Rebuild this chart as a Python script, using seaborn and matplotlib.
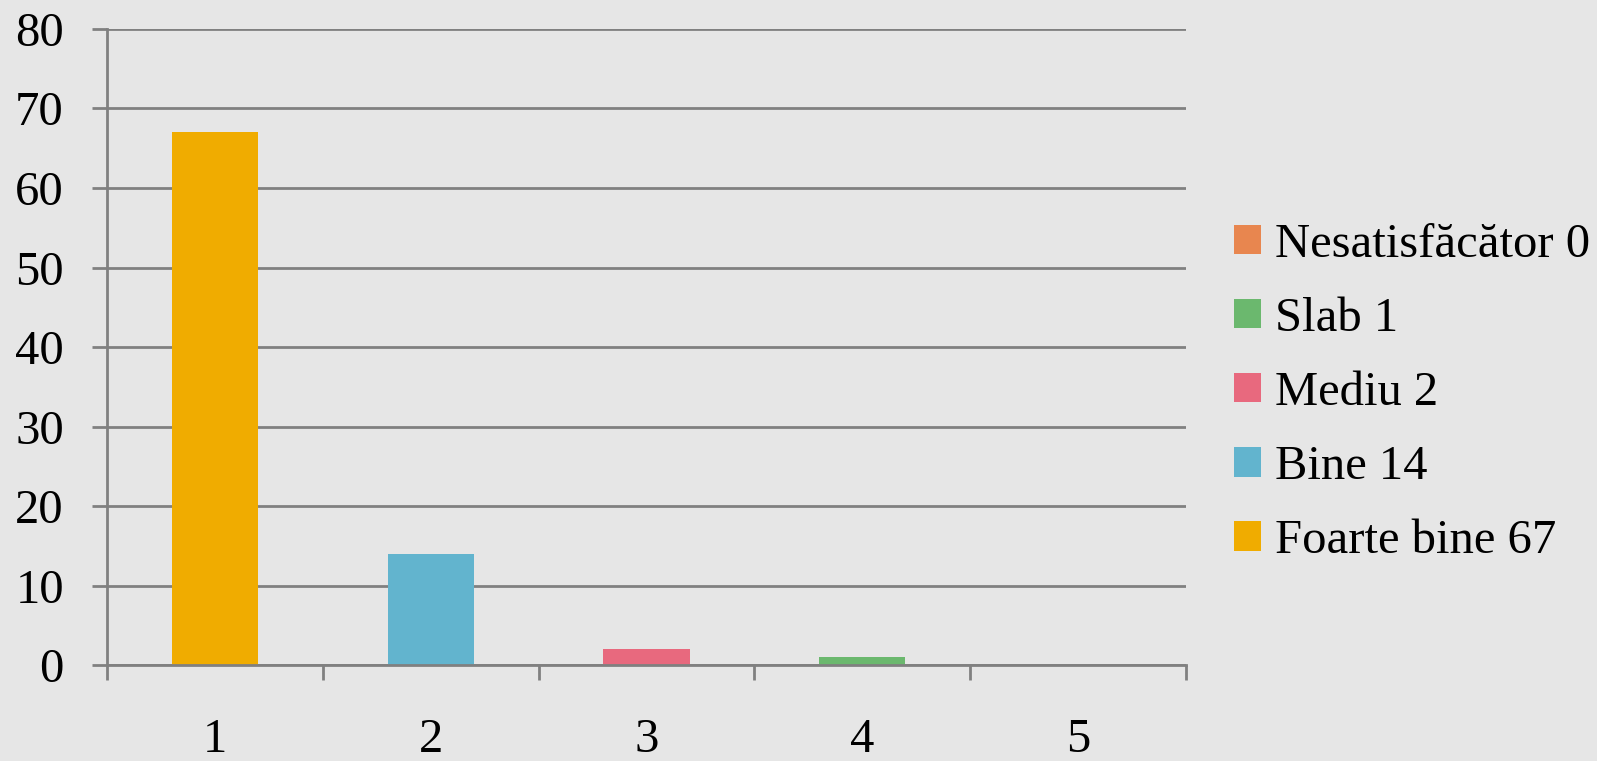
import matplotlib
matplotlib.use('Agg')
import matplotlib.pyplot as plt
import seaborn as sns
import pandas as pd
from matplotlib.patches import Patch
from matplotlib.ticker import FixedLocator

# ---- data ----
positions = ['1', '2', '3', '4', '5']
grades = ['Foarte bine', 'Bine', 'Mediu', 'Slab', 'Nesatisfăcător']
counts = [67, 14, 2, 1, 0]
colors = ['#F0AC00', '#62B4CE', '#E8697E', '#6BB86E', '#E8864F']
legend_order = ['Nesatisfăcător', 'Slab', 'Mediu', 'Bine', 'Foarte bine']

df = pd.DataFrame({'pos': positions, 'grade': grades, 'count': counts})
palette = dict(zip(grades, colors))

sns.set_theme(style='white')
plt.rcParams['font.family'] = ['Liberation Serif', 'DejaVu Serif']
plt.rcParams['text.color'] = 'black'
bg = '#E6E6E6'
grid_c = '#808080'

fig = plt.figure(figsize=(15.97, 7.61), dpi=100, facecolor=bg)
ax = fig.add_axes([0.067, 0.1261, 0.6756, 0.8358], facecolor=bg)

sns.barplot(data=df, x='pos', y='count', hue='grade', palette=palette,
            dodge=False, width=0.40, legend=False, ax=ax, saturation=1,
            linewidth=0, edgecolor='none')

ax.set_ylim(0, 80)
ax.set_xlim(-0.5, 4.5)
ax.set_yticks(range(0, 81, 10))
ax.yaxis.grid(True, color=grid_c, linewidth=2)
ax.set_axisbelow(True)
ax.set_xlabel('')
ax.set_ylabel('')

for s in ['top', 'right']:
    ax.spines[s].set_visible(False)
for s in ['left', 'bottom']:
    ax.spines[s].set_color(grid_c)
    ax.spines[s].set_linewidth(2)

# boundaries as major ticks, labels on minor ticks at the centres
ax.xaxis.set_major_locator(FixedLocator([i - 0.5 for i in range(6)]))
ax.xaxis.set_minor_locator(FixedLocator(list(range(5))))
ax.set_xticklabels([], minor=False)
ax.set_xticklabels(positions, minor=True)
ax.tick_params(axis='x', which='major', length=11, width=2, color=grid_c, direction='out', bottom=True)
ax.tick_params(axis='x', which='minor', length=0, pad=38, labelsize=35, labelcolor='black')
ax.tick_params(axis='y', length=11, width=2, color=grid_c, direction='out', left=True,
               pad=20, labelsize=35, labelcolor='black')

handles = [Patch(facecolor=palette[g], edgecolor='none') for g in legend_order]
labels = [f'{g} {counts[grades.index(g)]}' for g in legend_order]
fig.legend(handles, labels, loc='center left', bbox_to_anchor=(0.7727, 0.4836),
           frameon=False, fontsize=35, handlelength=0.55, handleheight=0.55,
           handletextpad=0.3, labelspacing=0.62, borderpad=0, borderaxespad=0,
           labelcolor='black')

fig.savefig('out.png', dpi=100, facecolor=bg)
